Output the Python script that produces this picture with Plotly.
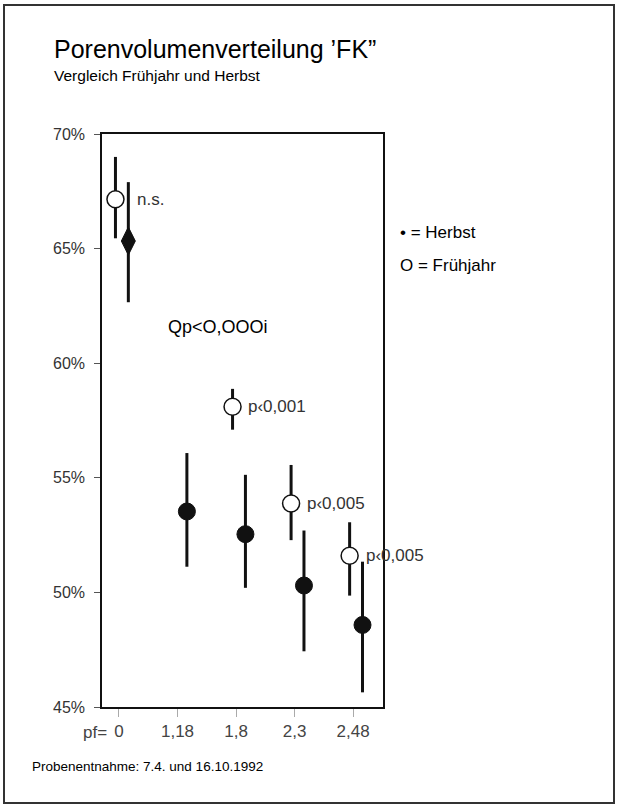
import plotly.graph_objects as go

# ---- data ----
pf_labels = ["0", "1,18", "1,8", "2,3", "2,48"]

fruehjahr_mean = [67.15, 61.6, 58.1, 53.88, 51.6]
fruehjahr_hi = [69.0, 61.6, 58.88, 55.56, 53.06]
fruehjahr_lo = [65.45, 61.6, 57.1, 52.28, 49.86]

herbst_mean = [65.33, 53.53, 52.54, 50.3, 48.58]
herbst_hi = [67.9, 56.08, 55.13, 52.7, 51.34]
herbst_lo = [62.66, 51.12, 50.2, 47.43, 45.64]

sig_labels = ["n.s.", "Qp<O,OOOi", "p\u20390,001", "p\u20390,005", "p\u20390,005"]

y_ticks = [45, 50, 55, 60, 65, 70]
y_tick_text = ["45%", "50%", "55%", "60%", "65%", "70%"]

# ---- styling ----
FONT = "Liberation Sans, Arial, sans-serif"
idx = list(range(len(pf_labels)))
F_OFF, H_OFF = -0.06, 0.16
xf = [i + F_OFF for i in idx]
xh = [i + H_OFF for i in idx]

f_vis = [True, False, True, True, True]

fig = go.Figure()

# Frühjahr (open circles)
fig.add_trace(go.Scatter(
    x=[x for x, v in zip(xf, f_vis) if v],
    y=[m for m, v in zip(fruehjahr_mean, f_vis) if v],
    mode="markers",
    marker=dict(symbol="circle", size=17, color="white", opacity=1,
                line=dict(color="#111", width=1.5)),
    error_y=dict(type="data", symmetric=False,
                 array=[h - m for h, m, v in zip(fruehjahr_hi, fruehjahr_mean, f_vis) if v],
                 arrayminus=[m - l for l, m, v in zip(fruehjahr_lo, fruehjahr_mean, f_vis) if v],
                 color="#111", thickness=3, width=0),
    showlegend=False, hoverinfo="skip"))

# Herbst (filled)
fig.add_trace(go.Scatter(
    x=xh, y=herbst_mean, mode="markers",
    marker=dict(symbol=["diamond-tall"] + ["circle"] * 4,
                size=[20, 17, 17, 17, 17], color="#111", opacity=1,
                line=dict(color="#111", width=1)),
    error_y=dict(type="data", symmetric=False,
                 array=[h - m for h, m in zip(herbst_hi, herbst_mean)],
                 arrayminus=[m - l for l, m in zip(herbst_lo, herbst_mean)],
                 color="#111", thickness=3, width=0),
    showlegend=False, hoverinfo="skip"))

# significance labels
label_shift = [20, -8, 13, 14, 14]
for i, (lab, y) in enumerate(zip(sig_labels, fruehjahr_mean)):
    bold = i == 1
    fig.add_annotation(
        x=xf[i], y=y, xref="x", yref="y", text=lab, showarrow=False,
        xanchor="left", yanchor="middle", xshift=label_shift[i],
        font=dict(family=FONT, size=18 if bold else 17,
                  color="#000" if bold else "#333"))

# pf= prefix
fig.add_annotation(x=0, y=0, xref="x", yref="paper", text="pf=",
                   showarrow=False, xanchor="right", yanchor="top",
                   xshift=-10, yshift=-14,
                   font=dict(family=FONT, size=17, color="#444"))

L, R, T, B = 102, 235, 134, 101
W, H = 618, 808
pw, ph = W - L - R, H - T - B

# titles, legend text, footer
texts = [
    ("Porenvolumenverteilung \u2019FK\u201d", 52, 49, 25, "#000"),
    ("Vergleich Frühjahr und Herbst", 52, 75, 15.5, "#000"),
    ("\u2022 = Herbst", 398, 232, 17, "#000"),
    ("O = Frühjahr", 398, 265, 17, "#000"),
    ("Probenentnahme: 7.4. und 16.10.1992", 30, 767, 13.5, "#000"),
]
for txt, px, py, size, col in texts:
    fig.add_annotation(
        x=(px - L) / pw, y=(H - B - py) / ph, xref="paper", yref="paper",
        text=txt, showarrow=False, xanchor="left", yanchor="middle",
        font=dict(family=FONT, size=size, color=col))

# outer frame
fig.add_shape(type="rect", xref="paper", yref="paper",
              x0=(4 - L) / pw, x1=(614 - L) / pw,
              y0=(H - B - 803) / ph, y1=(H - B - 5) / ph,
              line=dict(color="#333", width=2))

fig.update_layout(
    width=W, height=H,
    margin=dict(l=L, r=R, t=T, b=B),
    paper_bgcolor="white", plot_bgcolor="white",
    xaxis=dict(range=[-0.29, 4.51], tickvals=idx, ticktext=pf_labels,
               showgrid=False, zeroline=False, showline=True, mirror=True,
               linecolor="#111", linewidth=1.5,
               ticks="outside", ticklen=8, tickcolor="#aaa", tickwidth=1,
               tickfont=dict(family=FONT, size=17, color="#444")),
    yaxis=dict(range=[45, 70], tickvals=y_ticks, ticktext=y_tick_text,
               showgrid=False, zeroline=False, showline=True, mirror=True,
               linecolor="#111", linewidth=1.5,
               ticks="outside", ticklen=6, tickcolor="#555", tickwidth=1,
               ticklabelstandoff=6,
               tickfont=dict(family=FONT, size=16, color="#333")),
)

fig.write_html("out.html")
